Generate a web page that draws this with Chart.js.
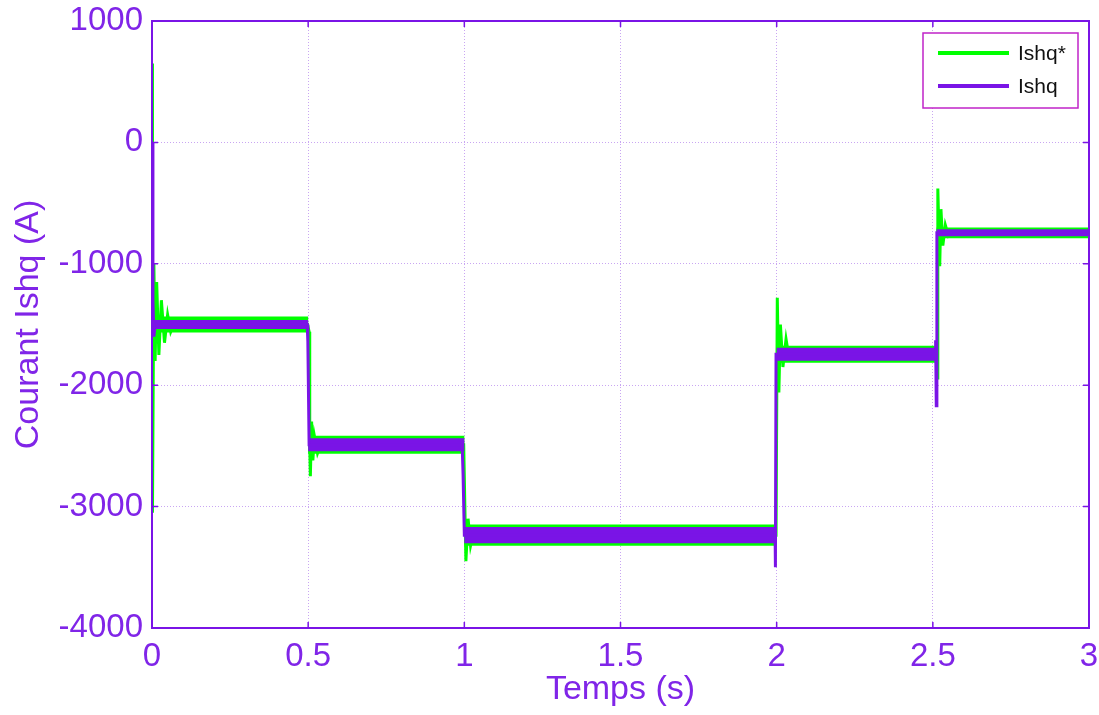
<!DOCTYPE html>
<html>
<head>
<meta charset="utf-8">
<script src="https://cdn.jsdelivr.net/npm/chart.js@4/dist/chart.umd.min.js"></script>
<style>
  html, body { margin: 0; padding: 0; background: #fff; }
  #wrap { width: 1099px; height: 715px; }
</style>
</head>
<body>
<div id="wrap"><canvas id="c" width="1099" height="715"></canvas></div>
<script>
// axis ticks
const xTicks = [0, 0.5, 1, 1.5, 2, 2.5, 3];
const yTicks = [-4000, -3000, -2000, -1000, 0, 1000];

// Ishq* (reference) - transients
const refT = [0, 0.001, 0.002, 0.006, 0.01, 0.015, 0.022, 0.03, 0.04, 0.05, 0.06, 0.07,
  0.498, 0.503, 0.505, 0.507, 0.511, 0.515, 0.52, 0.53, 0.54,
  0.998, 1.005, 1.012, 1.02, 1.03, 1.04,
  1.998, 2.002, 2.007, 2.012, 2.02, 2.03, 2.04, 2.05,
  2.51, 2.514, 2.516, 2.522, 2.526, 2.532, 2.54, 2.55, 2.56, 3];
const refV = [650, 650, -3050, -1000, -1800, -1150, -1750, -1300, -1650, -1420, -1560, -1500,
  -1500, -1560, -2500, -2750, -2300, -2620, -2420, -2560, -2490,
  -2490, -3450, -3100, -3320, -3200, -3235,
  -3235, -1280, -2060, -1500, -1850, -1620, -1780, -1745,
  -1745, -1940, -380, -1020, -550, -850, -680, -770, -745, -745];

// Ishq* noise band (upper / lower envelope)
const refBandT = [0.02, 0.5, 0.5, 1.0, 1.0, 2.0, 2.0, 2.512, 2.512, 3.0];
const refUp = [-1434, -1434, -2416, -2416, -3148, -3148, -1675, -1675, -700, -700];
const refLo = [-1566, -1566, -2564, -2564, -3322, -3322, -1815, -1815, -790, -790];

// Ishq (measured)
const measT = [0, 0.003, 0.006, 0.01,
  0.497, 0.499, 0.503,
  0.993, 0.996, 1.0,
  1.995, 1.996, 1.998,
  2.508, 2.509, 2.511, 2.513, 3];
const measV = [0, -1300, -1600, -1500,
  -1500, -1640, -2490,
  -2490, -2740, -3235,
  -3235, -3500, -1745,
  -1745, -1630, -2170, -745, -745];

const measBandT = [0.005, 0.5, 0.5, 1.0, 1.0, 2.0, 2.0, 2.512, 2.512, 3.0];
const measUp = [-1463, -1463, -2436, -2436, -3169, -3169, -1691, -1691, -716, -716];
const measLo = [-1537, -1537, -2544, -2544, -3301, -3301, -1799, -1799, -774, -774];

const GREEN = '#00ff00';
const PURPLE = '#7a14e6';
const TEXT = '#8025e8';
const GRID = '#c9a6f2';
const FONT = '"Liberation Sans", Arial, sans-serif';

const pts = (t, v) => t.map((x, i) => ({ x: x, y: v[i] }));

const boxPlugin = {
  id: 'box',
  afterDraw(chart) {
    const ctx = chart.ctx;
    const a = chart.chartArea;
    const xs = chart.scales.x, ys = chart.scales.y;
    ctx.save();
    ctx.strokeStyle = PURPLE;
    ctx.lineWidth = 2;
    ctx.strokeRect(a.left, a.top, a.right - a.left, a.bottom - a.top);
    ctx.lineWidth = 1.5;
    ctx.beginPath();
    xTicks.forEach(t => {
      const px = xs.getPixelForValue(t);
      ctx.moveTo(px, a.bottom); ctx.lineTo(px, a.bottom - 6);
      ctx.moveTo(px, a.top); ctx.lineTo(px, a.top + 6);
    });
    yTicks.forEach(t => {
      const py = ys.getPixelForValue(t);
      ctx.moveTo(a.left, py); ctx.lineTo(a.left + 6, py);
      ctx.moveTo(a.right, py); ctx.lineTo(a.right - 6, py);
    });
    ctx.stroke();

    // legend
    const lx = 923, ly = 33, lw = 155, lh = 75;
    ctx.fillStyle = '#fff';
    ctx.fillRect(lx, ly, lw, lh);
    ctx.strokeStyle = '#c023c8';
    ctx.lineWidth = 1.5;
    ctx.strokeRect(lx, ly, lw, lh);
    const items = chart.data.datasets.filter(d => d.inLegend).sort((p, q) => p.legendPos - q.legendPos);
    items.forEach((d, i) => {
      const y = ly + 20 + i * 33;
      ctx.strokeStyle = d.borderColor;
      ctx.lineWidth = 4;
      ctx.beginPath();
      ctx.moveTo(lx + 15, y); ctx.lineTo(lx + 86, y);
      ctx.stroke();
      ctx.fillStyle = '#111';
      ctx.font = '21px ' + FONT;
      ctx.textBaseline = 'middle';
      ctx.fillText(d.label, lx + 95, y + 1);
    });
    ctx.restore();
  }
};

// dataset 0 is drawn on top, so the measured current comes first
new Chart(document.getElementById('c'), {
  type: 'line',
  data: {
    datasets: [
      { label: 'Ishq', inLegend: true, legendPos: 2, data: pts(measT, measV), borderColor: PURPLE,
        borderWidth: 3, pointRadius: 0, fill: false },
      { label: 'measUp', data: pts(measBandT, measUp), borderWidth: 0, borderColor: PURPLE,
        backgroundColor: PURPLE, fill: '+1', pointRadius: 0 },
      { label: 'measLo', data: pts(measBandT, measLo), borderWidth: 0, borderColor: PURPLE,
        pointRadius: 0, fill: false },
      { label: 'Ishq*', inLegend: true, legendPos: 1, data: pts(refT, refV), borderColor: GREEN,
        borderWidth: 3, pointRadius: 0, fill: false },
      { label: 'refUp', data: pts(refBandT, refUp), borderWidth: 0, borderColor: GREEN,
        backgroundColor: GREEN, fill: '+1', pointRadius: 0 },
      { label: 'refLo', data: pts(refBandT, refLo), borderWidth: 0, borderColor: GREEN,
        pointRadius: 0, fill: false }
    ]
  },
  options: {
    responsive: false,
    animation: false,
    layout: { padding: { top: 21, right: 10, left: 0, bottom: 0 } },
    plugins: { legend: { display: false }, tooltip: { enabled: false } },
    scales: {
      x: {
        type: 'linear', min: 0, max: 3,
        afterBuildTicks: s => { s.ticks = xTicks.map(v => ({ value: v })); },
        afterFit: s => { s.height = 87; s.paddingLeft = 0; s.paddingRight = 0; },
        grid: { color: GRID, lineWidth: 1, drawTicks: false },
        border: { display: false, dash: [1, 2] },
        ticks: { color: TEXT, padding: 9, font: { size: 33, family: FONT },
          maxRotation: 0, callback: v => String(v) },
        title: { display: true, text: 'Temps (s)', color: TEXT,
          font: { size: 34, family: FONT }, padding: { top: 0, bottom: 5 } }
      },
      y: {
        min: -4000, max: 1000,
        afterBuildTicks: s => { s.ticks = yTicks.map(v => ({ value: v })); },
        afterFit: s => { s.width = 152; s.paddingTop = 0; s.paddingBottom = 0; },
        grid: { color: GRID, lineWidth: 1, drawTicks: false },
        border: { display: false, dash: [1, 2] },
        ticks: { color: TEXT, padding: 9, font: { size: 33, family: FONT },
          callback: v => String(v) },
        title: { display: true, text: 'Courant Ishq (A)', color: TEXT,
          font: { size: 34, family: FONT }, padding: { top: 8, bottom: 0 } }
      }
    }
  },
  plugins: [boxPlugin]
});
</script>
</body>
</html>
